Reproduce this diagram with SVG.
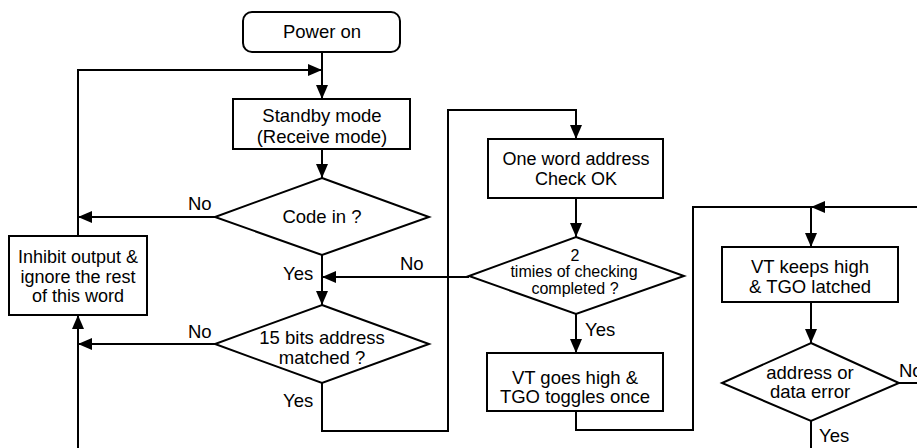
<svg xmlns="http://www.w3.org/2000/svg" width="917" height="448" viewBox="0 0 917 448">
<style>
.s{fill:#fff;stroke:#000;stroke-width:2}
.c{fill:none;stroke:#000;stroke-width:2}
text{font-family:"Liberation Sans",Arial,sans-serif;font-size:18px;fill:#000}
.m{text-anchor:middle}
.b{font-size:18.5px}
.t{font-size:16px}
</style>
<defs>
<marker id="ah" markerUnits="userSpaceOnUse" markerWidth="16" markerHeight="14" refX="14" refY="6" orient="auto">
<path d="M0,0 L14,6 L0,12 Z" fill="#000"/>
</marker>
</defs>
<rect width="917" height="448" fill="#fff"/>
<g id="connectors">
<path class="c" d="M322 52 V99" marker-end="url(#ah)"/>
<path class="c" d="M78 236 V70 H322" marker-end="url(#ah)"/>
<path class="c" d="M322 149 V178" marker-end="url(#ah)"/>
<path class="c" d="M215 217 H78" marker-end="url(#ah)"/>
<path class="c" d="M322 255 V305" marker-end="url(#ah)"/>
<path class="c" d="M469 277 H322" marker-end="url(#ah)"/>
<path class="c" d="M215 344 H78" marker-end="url(#ah)"/>
<path class="c" d="M78 448 V315" marker-end="url(#ah)"/>
<path class="c" d="M322 383 V431 H448 V110 H576 V139" marker-end="url(#ah)"/>
<path class="c" d="M576 198 V237" marker-end="url(#ah)"/>
<path class="c" d="M576 314 V353" marker-end="url(#ah)"/>
<path class="c" d="M576 411 V430 H693 V207 H811"/>
<path class="c" d="M917 207 H811" marker-end="url(#ah)"/>
<path class="c" d="M811 207 V247" marker-end="url(#ah)"/>
<path class="c" d="M811 302 V343" marker-end="url(#ah)"/>
<path class="c" d="M899 383 H917"/>
<path class="c" d="M811 421 V448"/>
</g>
<g id="power-on">
<rect class="s" x="243" y="12" width="157" height="40" rx="9"/>
<text class="m b" x="322" y="38">Power on</text>
</g>
<g id="standby">
<rect class="s" x="233" y="99" width="177" height="50"/>
<text class="m b" x="322" y="122">Standby mode</text>
<text class="m b" x="322" y="143">(Receive mode)</text>
</g>
<g id="code-in">
<polygon class="s" points="322,178 429,217 322,255 215,217"/>
<text class="m b" x="322" y="223">Code in ?</text>
<text class="b" x="188" y="210">No</text>
<text class="b" x="283" y="280">Yes</text>
</g>
<g id="inhibit">
<rect class="s" x="9" y="236" width="138" height="79"/>
<text class="m" x="78" y="263">Inhibit output &amp;</text>
<text class="m" x="78" y="283">ignore the rest</text>
<text class="m" x="78" y="302">of this word</text>
</g>
<g id="address-match">
<polygon class="s" points="322,305 429,344 322,383 215,344"/>
<text class="m b" x="322" y="344">15 bits address</text>
<text class="m b" x="322" y="364">matched ?</text>
<text class="b" x="188" y="338">No</text>
<text class="b" x="283" y="407">Yes</text>
</g>
<g id="one-word">
<rect class="s" x="488" y="139" width="175" height="59"/>
<text class="m" x="576" y="165">One word address</text>
<text class="m" x="576" y="185">Check OK</text>
</g>
<g id="two-times">
<polygon class="s" points="576,237 684,276 576,314 469,276"/>
<text class="m t" x="575" y="261">2</text>
<text class="m t" x="574" y="277">timies of checking</text>
<text class="m t" x="575" y="294">completed ?</text>
<text class="b" x="400" y="270">No</text>
<text class="b" x="585" y="336">Yes</text>
</g>
<g id="vt-goes-high">
<rect class="s" x="487" y="353" width="176" height="58"/>
<text class="m b" x="575" y="384">VT goes high &amp;</text>
<text class="m b" x="575" y="403">TGO toggles once</text>
</g>
<g id="vt-keeps-high">
<rect class="s" x="722" y="247" width="176" height="55"/>
<text class="m b" x="810" y="273">VT keeps high</text>
<text class="m b" x="810" y="293">&amp; TGO latched</text>
</g>
<g id="error-check">
<polygon class="s" points="811,343 899,383 811,421 722,383"/>
<text class="m b" x="810" y="379">address or</text>
<text class="m b" x="810" y="398">data error</text>
<text class="b" x="899" y="377">No</text>
<text class="b" x="819" y="442">Yes</text>
</g>
</svg>
